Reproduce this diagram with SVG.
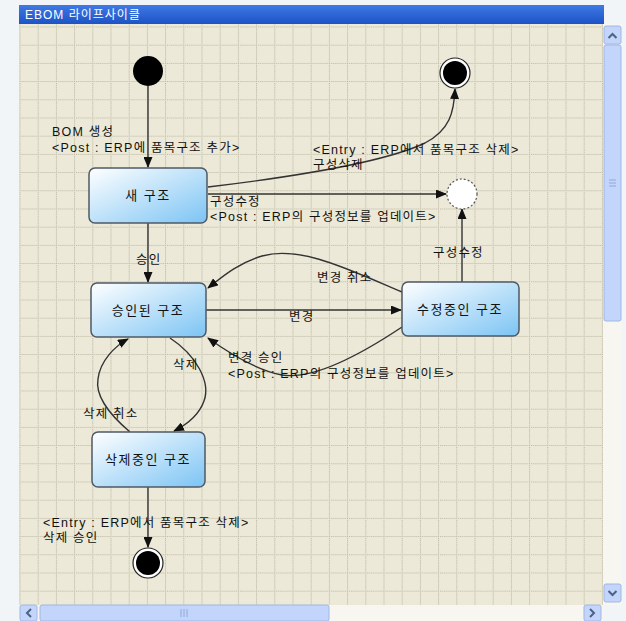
<svg xmlns="http://www.w3.org/2000/svg" width="626" height="621" viewBox="0 0 626 621">
<defs>
<style>
.lbl{font-family:"Liberation Sans","Noto Sans CJK KR",sans-serif;font-size:12.5px;letter-spacing:1.2px;fill:#111}
.nt{font-family:"Liberation Sans","Noto Sans CJK KR",sans-serif;font-size:13px;letter-spacing:1.5px;fill:#111;text-anchor:middle}
.st{fill:url(#sg);stroke:#4f5a66;stroke-width:1.5}
.cn{fill:none;stroke:#333;stroke-width:1.4;marker-end:url(#ah)}
.sb{fill:#c3d5fb;stroke:#9fb6e6;stroke-width:1}
.chev{fill:none;stroke:#4d6185;stroke-width:2}
</style>
<linearGradient id="sg" x1="0" y1="0" x2="1" y2="1"><stop offset="0" stop-color="#ffffff"/><stop offset="1" stop-color="#7cc4f4"/></linearGradient>
<linearGradient id="tb" x1="0" y1="0" x2="0" y2="1"><stop offset="0" stop-color="#3f7ae4"/><stop offset="1" stop-color="#1c52c6"/></linearGradient>
<pattern id="grid" x="19.5" y="26.5" width="18.2" height="18.2" patternUnits="userSpaceOnUse"><path d="M0,0.5H18.2M0.5,0V18.2" stroke="#b8b49f" stroke-width="1" stroke-dasharray="1,1"/></pattern>
<marker id="ah" markerWidth="11" markerHeight="9" refX="10" refY="4.5" orient="auto" markerUnits="userSpaceOnUse"><path d="M0,0L11,4.5L0,9z" fill="#111"/></marker>
</defs>
<rect width="626" height="621" fill="#f1f5f8"/>
<g id="window">
<rect x="19" y="24" width="584" height="581" fill="#ece9d8"/>
<rect x="19" y="24" width="584" height="581" fill="url(#grid)"/>
<rect x="19" y="5" width="585" height="19" fill="url(#tb)"/>
<text x="25" y="19" style="font-family:'Liberation Sans','Noto Sans CJK KR',sans-serif;font-size:12px;letter-spacing:1px;fill:#fff">EBOM 라이프사이클</text>
<rect x="603" y="24" width="19" height="581" fill="#f7f6f1"/>
<rect x="604" y="26" width="17" height="18" rx="2" class="sb"/>
<path d="M608.5,38L612.5,34L616.5,38" class="chev"/>
<rect x="604" y="45" width="17" height="276" rx="2" class="sb"/>
<path d="M609,180h7M609,183h7M609,186h7" stroke="#8fa8dc" stroke-width="1"/>
<rect x="604" y="584" width="17" height="18" rx="2" class="sb"/>
<path d="M608.5,591L612.5,595L616.5,591" class="chev"/>
<rect x="19" y="605" width="584" height="16" fill="#f7f6f1"/>
<rect x="20" y="605" width="17" height="16" rx="2" class="sb"/>
<path d="M31,609L27,613L31,617" class="chev"/>
<rect x="40" y="605" width="289" height="16" rx="2" class="sb"/>
<path d="M181,609v8M184,609v8M187,609v8" stroke="#8fa8dc" stroke-width="1"/>
<rect x="584" y="605" width="17" height="16" rx="2" class="sb"/>
<path d="M590,609L594,613L590,617" class="chev"/>
</g>
<g id="connectors">
<path class="cn" d="M148,86V167"/>
<path class="cn" d="M208,187C300,176 385,162 425,143C450,130 454,112 455,89"/>
<path class="cn" d="M208,194H446"/>
<path class="cn" d="M462,282V209"/>
<path class="cn" d="M148,223V282"/>
<path class="cn" d="M206,310H401"/>
<path class="cn" d="M402,292C350,270 300,245 262,256C238,263 222,277 208,288"/>
<path class="cn" d="M402,327C360,355 312,380 282,375C256,370 226,351 208,338"/>
<path class="cn" d="M170,338C196,355 211,382 204,401C199,415 186,425 174,431"/>
<path class="cn" d="M130,432C110,415 95,396 98,379C100,361 115,346 128,339"/>
<path class="cn" d="M148,487V547"/>
</g>
<g id="labels">
<text class="lbl" x="52" y="136">BOM 생성</text>
<text class="lbl" x="52" y="152">&lt;Post : ERP에 품목구조 추가&gt;</text>
<text class="lbl" x="313" y="154">&lt;Entry : ERP에서 품목구조 삭제&gt;</text>
<text class="lbl" x="313" y="169">구성삭제</text>
<text class="lbl" x="210" y="206">구성수정</text>
<text class="lbl" x="210" y="221">&lt;Post : ERP의 구성정보를 업데이트&gt;</text>
<text class="lbl" x="433" y="257">구성수정</text>
<text class="lbl" x="136" y="264">승인</text>
<text class="lbl" x="317" y="282">변경 취소</text>
<text class="lbl" x="289" y="321">변경</text>
<text class="lbl" x="228" y="362">변경 승인</text>
<text class="lbl" x="228" y="378">&lt;Post : ERP의 구성정보를 업데이트&gt;</text>
<text class="lbl" x="173" y="369">삭제</text>
<text class="lbl" x="83" y="418">삭제 취소</text>
<text class="lbl" x="43" y="527">&lt;Entry : ERP에서 품목구조 삭제&gt;</text>
<text class="lbl" x="43" y="542">삭제 승인</text>
</g>
<g id="start"><circle cx="148" cy="71" r="15" fill="#000"/></g>
<g id="end-top"><circle cx="455" cy="73" r="15" fill="#fff" stroke="#222" stroke-width="1.2"/><circle cx="455" cy="73" r="12" fill="#000"/></g>
<g id="junction"><circle cx="462" cy="194" r="15" fill="#fff" stroke="#555" stroke-width="1.2" stroke-dasharray="2,2"/></g>
<g id="end-bottom"><circle cx="148" cy="563" r="15" fill="#fff" stroke="#222" stroke-width="1.2"/><circle cx="148" cy="563" r="12" fill="#000"/></g>
<g id="new"><rect class="st" x="89" y="168" width="118" height="55" rx="6"/><text class="nt" x="148" y="200">새 구조</text></g>
<g id="approved"><rect class="st" x="91" y="283" width="115" height="54" rx="6"/><text class="nt" x="148" y="315">승인된 구조</text></g>
<g id="modifying"><rect class="st" x="402" y="282" width="117" height="54" rx="6"/><text class="nt" x="460" y="314">수정중인 구조</text></g>
<g id="deleting"><rect class="st" x="92" y="432" width="113" height="55" rx="6"/><text class="nt" x="148" y="464">삭제중인 구조</text></g>
</svg>
